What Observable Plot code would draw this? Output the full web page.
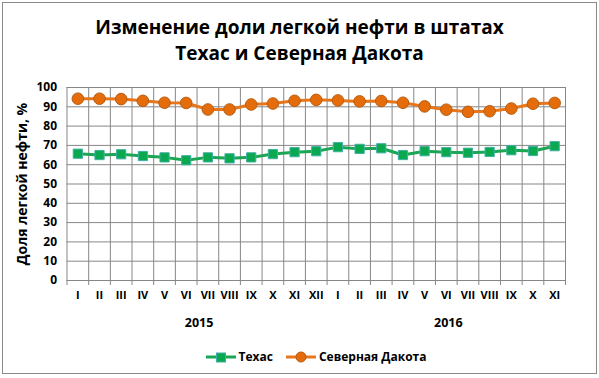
<!DOCTYPE html>
<html>
<head>
<meta charset="utf-8">
<script src="https://cdn.jsdelivr.net/npm/d3@7"></script>
<script src="https://cdn.jsdelivr.net/npm/@observablehq/plot@0.6"></script>
<style>
  html, body { margin: 0; padding: 0; background: #fff; }
  #frame { position: absolute; left: 2px; top: 2px; width: 595px; height: 372px; border: 1px solid #8a8a8a; box-sizing: border-box; }
  #title { position: absolute; left: 0; top: 14px; width: 599px; text-align: center; font-family: "Open Sans", sans-serif; font-weight: 700; font-size: 19px; line-height: 26px; color: #000; }
  #chart { position: absolute; left: 0; top: 70px; }
  #legend { position: absolute; left: 16px; top: 348px; width: 599px; display: flex; justify-content: center; align-items: center; font-family: "Open Sans", sans-serif; font-weight: 700; font-size: 12px; color: #000; }
  #legend .item { display: flex; align-items: center; margin: 0 6px; }
  #legend svg { margin-right: 2px; }
</style>
</head>
<body>
<div id="frame"></div>
<div id="title">Изменение доли легкой нефти в штатах<br>Техас и Северная Дакота</div>
<div id="chart"></div>
<div id="legend"></div>
<script>
const months = ["I","II","III","IV","V","VI","VII","VIII","IX","X","XI","XII",
                "I","II","III","IV","V","VI","VII","VIII","IX","X","XI"];
const years = ["2015","2016"];
const yearOfIndex = [0,0,0,0,0,0,0,0,0,0,0,0, 1,1,1,1,1,1,1,1,1,1,1];
const texas = [65.7,65.0,65.4,64.5,63.8,62.3,63.8,63.3,63.8,65.5,66.5,67.0,
               69.1,68.2,68.5,65.0,67.0,66.5,66.2,66.6,67.5,67.1,69.6];
const dakota = [94.2,94.2,94.0,93.1,92.1,92.0,88.6,88.6,91.2,91.7,93.1,93.6,
                93.3,92.8,93.0,92.1,90.2,88.5,87.4,87.7,89.1,91.6,92.0];
const yTicks = [0,10,20,30,40,50,60,70,80,90,100];

const greenLine = "#1aa655", greenFill = "#0aa84f", greenStroke = "#3fb0a5";
const orangeLine = "#e8761a", orangeFill = "#e46c0a", orangeStroke = "#b85d12";
const gridColor = "#878787";
const font = "'Open Sans', sans-serif";

const data = months.map((m, i) => ({i, x: i + 0.5, m, texas: texas[i], dakota: dakota[i]}));
const boundaries = d3.range(months.length + 1);
const yearLabels = years.map((y, k) => {
  const idx = data.filter(d => yearOfIndex[d.i] === k);
  return {year: y, x: d3.mean([idx[0].i, idx[idx.length - 1].i + 1])};
});

const plot = Plot.plot({
  width: 599,
  height: 270,
  marginTop: 17,
  marginBottom: 60,
  marginLeft: 66.5,
  marginRight: 34,
  style: {fontFamily: font, fontSize: "12px", fontWeight: "700", color: "#000", background: "transparent"},
  x: {domain: [0, months.length]},
  y: {domain: [0, 100]},
  marks: [
    Plot.gridY(yTicks, {stroke: gridColor, strokeOpacity: 1}),
    Plot.gridX(boundaries, {stroke: gridColor, strokeOpacity: 1}),
    Plot.axisX(boundaries, {tickSize: 5, tickFormat: () => "", stroke: gridColor, strokeOpacity: 1, label: null}),
    Plot.axisX(data.map(d => d.x), {tickSize: 0, tickPadding: 11, tickFormat: v => months[Math.floor(v)], fontSize: 11, fontWeight: 700, label: null}),
    Plot.axisY(yTicks, {tickSize: 0, tickPadding: 10, fontSize: 12, fontWeight: 700, label: null}),
    Plot.axisY(yTicks, {tickSize: 0, tickFormat: () => "", fontSize: 14, fontWeight: 700, label: "Доля легкой нефти, %", labelAnchor: "center", labelArrow: "none", labelOffset: 50}),
    Plot.text(yearLabels, {x: "x", text: "year", frameAnchor: "bottom", dy: 46, dx: 2, fontSize: 12.5, fontWeight: 700}),
    Plot.line(data, {x: "x", y: "texas", stroke: greenLine, strokeWidth: 3}),
    Plot.dot(data, {x: "x", y: "texas", symbol: "square", r: 5.2, fill: greenFill, stroke: greenStroke, strokeWidth: 1}),
    Plot.line(data, {x: "x", y: "dakota", stroke: orangeLine, strokeWidth: 3}),
    Plot.dot(data, {x: "x", y: "dakota", symbol: "circle", r: 5.8, fill: orangeFill, stroke: orangeStroke, strokeWidth: 1})
  ]
});
document.getElementById("chart").appendChild(plot);

const legendItems = [
  {label: "Техас", line: greenLine, fill: greenFill, stroke: greenStroke, shape: "square"},
  {label: "Северная Дакота", line: orangeLine, fill: orangeFill, stroke: orangeStroke, shape: "circle"}
];
const legend = d3.select("#legend");
legendItems.forEach(it => {
  const item = legend.append("div").attr("class", "item");
  const s = item.append("svg").attr("width", 32).attr("height", 16);
  s.append("line").attr("x1", 1).attr("x2", 31).attr("y1", 8).attr("y2", 8).attr("stroke", it.line).attr("stroke-width", 3);
  if (it.shape === "square") {
    s.append("rect").attr("x", 11.5).attr("y", 4).attr("width", 9).attr("height", 9).attr("fill", it.fill).attr("stroke", it.stroke);
  } else {
    s.append("circle").attr("cx", 16).attr("cy", 8).attr("r", 5).attr("fill", it.fill).attr("stroke", it.stroke);
  }
  item.append("span").text(it.label);
});
</script>
</body>
</html>
